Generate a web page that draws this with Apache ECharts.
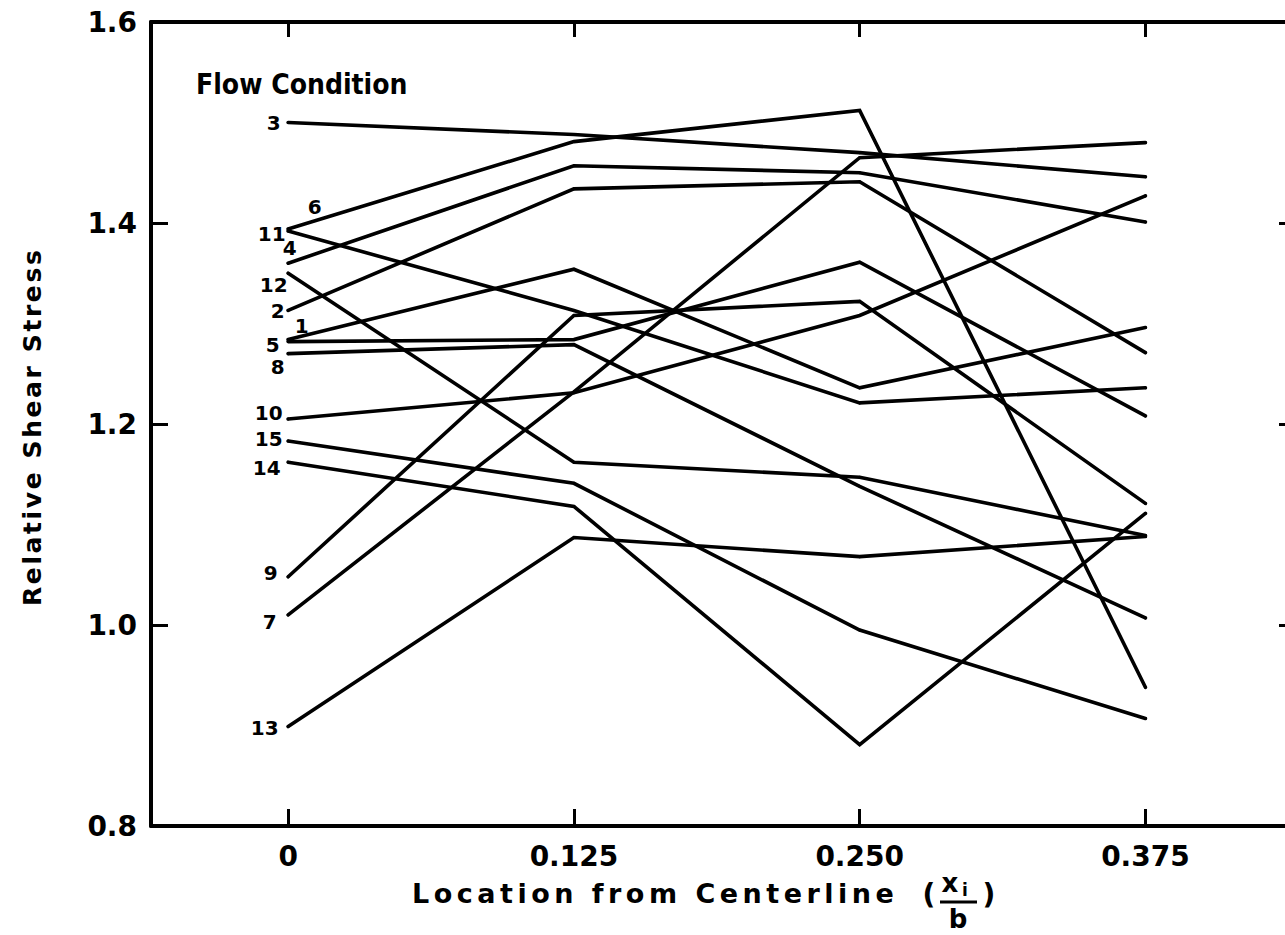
<!DOCTYPE html>
<html>
<head>
<meta charset="utf-8">
<script src="https://cdn.jsdelivr.net/npm/echarts@6/dist/echarts.min.js"></script>
<style>
html,body{margin:0;padding:0;background:#fff}
#chart{width:1285px;height:935px}
</style>
</head>
<body>
<div id="chart"></div>
<script>
// ---- data ----
const xPositions = [0, 0.125, 0.25, 0.375];
const xTickLabels = ['0', '0.125', '0.250', '0.375'];
const yTickLabels = ['0.8', '1.0', '1.2', '1.4', '1.6'];
const conditionNames = ['1','2','3','4','5','6','7','8','9','10','11','12','13','14','15'];
const fc1  = [1.284, 1.354, 1.236, 1.296];
const fc2  = [1.313, 1.434, 1.441, 1.271];
const fc3  = [1.500, 1.488, 1.470, 1.446];
const fc4  = [1.360, 1.457, 1.450, 1.401];
const fc5  = [1.282, 1.284, 1.361, 1.208];
const fc6  = [1.394, 1.481, 1.512, 0.938];
const fc7  = [1.010, 1.232, 1.465, 1.480];
const fc8  = [1.270, 1.279, 1.138, 1.007];
const fc9  = [1.048, 1.308, 1.322, 1.121];
const fc10 = [1.205, 1.231, 1.308, 1.427];
const fc11 = [1.392, 1.313, 1.221, 1.236];
const fc12 = [1.350, 1.162, 1.147, 1.089];
const fc13 = [0.899, 1.087, 1.068, 1.088];
const fc14 = [1.162, 1.118, 0.881, 1.111];
const fc15 = [1.183, 1.141, 0.995, 0.907];
const conditionValues = [fc1, fc2, fc3, fc4, fc5, fc6, fc7, fc8, fc9, fc10, fc11, fc12, fc13, fc14, fc15];

// ---- label placement (style only) ----
const labelOffsets = {
  '1': [28, -14], '2': [4, 1], '3': [0, 0], '4': [16, -15], '5': [-1, 3],
  '6': [41, -22], '7': [-4, 7], '8': [4, 13], '9': [-3, -4], '10': [2, -6],
  '11': [5, 3], '12': [7, 12], '13': [-2, 1], '14': [0, 6], '15': [2, -2]
};

const chart = echarts.init(document.getElementById('chart'), null, {renderer: 'svg'});
const FONT = 'DejaVu Sans';

const series = conditionNames.map((name, si) => ({
  type: 'line',
  name: name,
  xAxisIndex: 0,
  yAxisIndex: 0,
  symbol: 'circle',
  symbolSize: 3,
  showSymbol: true,
  itemStyle: {color: '#000', borderWidth: 0},
  lineStyle: {color: '#000', width: 3.6, cap: 'round', join: 'miter'},
  emphasis: {disabled: true},
  data: xPositions.map((x, i) => {
    const item = {value: [x, conditionValues[si][i]]};
    if (i === 0) {
      item.label = {
        show: true,
        position: 'left',
        distance: 6,
        offset: labelOffsets[name],
        formatter: name,
        color: '#000',
        fontFamily: FONT,
        fontWeight: 'bold',
        fontSize: 20
      };
    }
    return item;
  })
}));

const findX = v => xPositions.findIndex(p => Math.abs(p - v) < 1e-9);

chart.setOption({
  animation: false,
  backgroundColor: '#fff',
  grid: {left: 151, top: 22, width: 1143, height: 804, containLabel: false, outerBoundsMode: 'none'},
  xAxis: [
    {
      type: 'value', position: 'bottom', min: -0.06, max: 0.44,
      axisLine: {show: true, onZero: false, lineStyle: {color: '#000', width: 4}},
      axisTick: {show: true, inside: true, length: 17, customValues: xPositions, lineStyle: {color: '#000', width: 3}},
      axisLabel: {
        show: true, customValues: xPositions, margin: 16,
        formatter: v => { const k = findX(v); return k >= 0 ? xTickLabels[k] : ''; },
        color: '#000', fontFamily: FONT, fontWeight: 'bold', fontSize: 28
      },
      splitLine: {show: false}
    },
    {
      type: 'value', position: 'top', min: -0.06, max: 0.44,
      axisLine: {show: true, onZero: false, lineStyle: {color: '#000', width: 4}},
      axisTick: {show: true, inside: true, length: 15, customValues: xPositions, lineStyle: {color: '#000', width: 3}},
      axisLabel: {show: false},
      splitLine: {show: false}
    }
  ],
  yAxis: [
    {
      type: 'value', position: 'left', min: 0.8, max: 1.6, interval: 0.2,
      axisLine: {show: true, onZero: false, lineStyle: {color: '#000', width: 4}},
      axisTick: {show: true, inside: true, length: 17, lineStyle: {color: '#000', width: 3}},
      axisLabel: {
        show: true, margin: 14,
        formatter: v => yTickLabels[Math.round((v - 0.8) / 0.2)],
        color: '#000', fontFamily: FONT, fontWeight: 'bold', fontSize: 28
      },
      splitLine: {show: false}
    },
    {
      type: 'value', position: 'right', min: 0.8, max: 1.6, interval: 0.2,
      axisLine: {show: true, onZero: false, lineStyle: {color: '#000', width: 4}},
      axisTick: {show: true, inside: true, length: 15, lineStyle: {color: '#000', width: 3}},
      axisLabel: {show: false},
      splitLine: {show: false}
    }
  ],
  graphic: [
    {type: 'text', x: 196, y: 84, style: {text: 'Flow Condition', fill: '#000', font: 'bold 28px "DejaVu Sans Condensed", "DejaVu Sans"', textAlign: 'left', textVerticalAlign: 'middle'}},
    {type: 'text', x: 32, y: 606, rotation: Math.PI / 2, style: {text: 'Relative Shear Stress', fill: '#000', font: 'bold 25px "DejaVu Sans"', textAlign: 'left', textVerticalAlign: 'middle'}},
    {type: 'text', x: 412, y: 893, style: {text: 'Location from Centerline', fill: '#000', font: 'bold 27px "DejaVu Sans"', textAlign: 'left', textVerticalAlign: 'middle'}},
    {type: 'text', x: 929, y: 894, style: {text: '(', fill: '#000', font: 'bold 28px "DejaVu Sans"', textAlign: 'center', textVerticalAlign: 'middle'}},
    {type: 'text', x: 950, y: 883, style: {text: 'x', fill: '#000', font: 'bold 26px "DejaVu Sans"', textAlign: 'center', textVerticalAlign: 'middle'}},
    {type: 'text', x: 965, y: 890, style: {text: 'i', fill: '#000', font: 'bold 17px "DejaVu Sans"', textAlign: 'center', textVerticalAlign: 'middle'}},
    {type: 'line', shape: {x1: 940, y1: 902, x2: 977, y2: 902}, style: {stroke: '#000', lineWidth: 3}},
    {type: 'text', x: 958, y: 919, style: {text: 'b', fill: '#000', font: 'bold 26px "DejaVu Sans"', textAlign: 'center', textVerticalAlign: 'middle'}},
    {type: 'text', x: 989, y: 894, style: {text: ')', fill: '#000', font: 'bold 28px "DejaVu Sans"', textAlign: 'center', textVerticalAlign: 'middle'}}
  ],
  series: series
});

function applySpacing() {
  document.querySelectorAll('#chart text').forEach(t => {
    const s = t.textContent;
    if (s === 'Location from Centerline') t.style.letterSpacing = '4.5px';
    if (s === 'Relative Shear Stress') t.style.letterSpacing = '2.6px';
  });
}
applySpacing();
chart.on('finished', applySpacing);
setTimeout(applySpacing, 0);
setTimeout(applySpacing, 100);
</script>
</body>
</html>
